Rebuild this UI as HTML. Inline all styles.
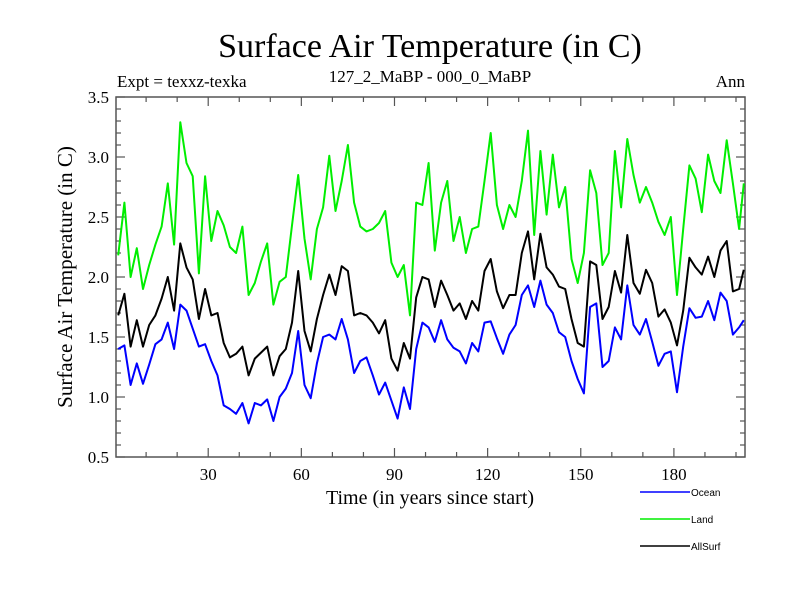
<!DOCTYPE html>
<html><head><meta charset="utf-8"><style>
body{margin:0;background:#fff;width:800px;height:600px;overflow:hidden}
svg{display:block}
.serif{font-family:"Liberation Serif",serif}
.sans{font-family:"Liberation Sans",sans-serif}
</style></head><body>
<svg id="chart" width="800" height="600" xmlns="http://www.w3.org/2000/svg">
<text class="serif" x="430" y="57" font-size="34" text-anchor="middle">Surface Air Temperature (in C)</text>
<text class="serif" x="117" y="87" font-size="17">Expt = texxz-texka</text>
<text class="serif" x="430" y="82" font-size="17" text-anchor="middle">127_2_MaBP - 000_0_MaBP</text>
<text class="serif" x="745" y="87" font-size="17" text-anchor="end">Ann</text>
<text class="serif" transform="translate(72,277) rotate(-90)" font-size="21" text-anchor="middle">Surface Air Temperature (in C)</text>
<text class="serif" x="430" y="504" font-size="20" text-anchor="middle">Time (in years since start)</text>
<g id="axes"></g>
<g id="series"></g>
<g>
<line x1="640" y1="492" x2="690" y2="492" stroke="#0000ff" stroke-width="1.5"/>
<text class="sans" x="691" y="496" font-size="10">Ocean</text>
<line x1="640" y1="519" x2="690" y2="519" stroke="#00ee00" stroke-width="1.5"/>
<text class="sans" x="691" y="523" font-size="10">Land</text>
<line x1="640" y1="546" x2="690" y2="546" stroke="#000" stroke-width="1.5"/>
<text class="sans" x="691" y="550" font-size="10">AllSurf</text>
</g>
</svg>
<script>
const years=[1,3,5,7,9,11,13,15,17,19,21,23,25,27,29,31,33,35,37,39,41,43,45,47,49,51,53,55,57,59,61,63,65,67,69,71,73,75,77,79,81,83,85,87,89,91,93,95,97,99,101,103,105,107,109,111,113,115,117,119,121,123,125,127,129,131,133,135,137,139,141,143,145,147,149,151,153,155,157,159,161,163,165,167,169,171,173,175,177,179,181,183,185,187,189,191,193,195,197,199,201,202.5];
const ocean=[1.40,1.43,1.10,1.28,1.11,1.27,1.44,1.48,1.62,1.40,1.77,1.72,1.57,1.42,1.44,1.30,1.18,0.93,0.90,0.86,0.95,0.78,0.95,0.93,0.98,0.80,1.00,1.07,1.20,1.55,1.10,0.99,1.28,1.50,1.52,1.48,1.65,1.48,1.20,1.30,1.33,1.18,1.02,1.12,0.97,0.82,1.08,0.90,1.40,1.62,1.58,1.46,1.64,1.48,1.41,1.38,1.28,1.45,1.38,1.62,1.63,1.49,1.36,1.52,1.60,1.85,1.93,1.75,1.97,1.77,1.70,1.54,1.50,1.30,1.15,1.03,1.75,1.78,1.25,1.30,1.58,1.48,1.93,1.60,1.52,1.65,1.46,1.26,1.36,1.38,1.04,1.42,1.74,1.66,1.67,1.80,1.64,1.87,1.80,1.52,1.58,1.64];
const land=[2.18,2.62,2.00,2.24,1.90,2.10,2.27,2.42,2.78,2.27,3.29,2.95,2.84,2.03,2.84,2.30,2.55,2.43,2.25,2.20,2.42,1.85,1.95,2.13,2.28,1.77,1.96,2.00,2.43,2.85,2.32,1.98,2.40,2.58,3.01,2.55,2.80,3.10,2.62,2.42,2.38,2.40,2.45,2.55,2.12,2.00,2.10,1.68,2.62,2.60,2.95,2.22,2.62,2.80,2.30,2.50,2.20,2.40,2.42,2.80,3.20,2.60,2.40,2.60,2.50,2.80,3.22,2.35,3.05,2.52,3.02,2.58,2.75,2.15,1.95,2.20,2.89,2.70,2.10,2.20,3.05,2.58,3.15,2.85,2.62,2.75,2.62,2.46,2.35,2.50,1.85,2.40,2.93,2.82,2.54,3.02,2.80,2.70,3.14,2.78,2.40,2.78];
const allsurf=[1.68,1.86,1.42,1.64,1.42,1.60,1.68,1.82,2.00,1.72,2.28,2.08,1.98,1.65,1.90,1.68,1.70,1.45,1.33,1.36,1.42,1.18,1.32,1.37,1.42,1.18,1.34,1.40,1.62,2.05,1.55,1.38,1.65,1.85,2.02,1.85,2.09,2.05,1.68,1.70,1.68,1.62,1.53,1.64,1.32,1.22,1.45,1.32,1.83,2.00,1.98,1.75,1.97,1.85,1.72,1.78,1.65,1.80,1.72,2.05,2.15,1.88,1.74,1.85,1.85,2.20,2.38,1.98,2.36,2.08,2.02,1.92,1.90,1.65,1.45,1.42,2.13,2.10,1.65,1.75,2.05,1.87,2.35,1.95,1.86,2.06,1.95,1.67,1.73,1.62,1.43,1.72,2.16,2.08,2.02,2.17,2.00,2.22,2.30,1.88,1.90,2.06];
const yTicks=[0.5,1.0,1.5,2.0,2.5,3.0,3.5];
const yTickLabels=["0.5","1.0","1.5","2.0","2.5","3.0","3.5"];
const xTicks=[30,60,90,120,150,180];
const xTickLabels=["30","60","90","120","150","180"];

const L=116,R=745,T=97,B=457;
const X0=0.3,X1=202.9,Y0=0.5,Y1=3.5;
function sx(v){return L+(v-X0)/(X1-X0)*(R-L);}
function sy(v){return B-(v-Y0)/(Y1-Y0)*(B-T);}
const NS="http://www.w3.org/2000/svg";
function mk(tag,attrs,parent){const e=document.createElementNS(NS,tag);for(const k in attrs)e.setAttribute(k,attrs[k]);parent.appendChild(e);return e;}
const axes=document.getElementById('axes');
const frame=mk('rect',{x:L,y:T,width:R-L,height:B-T,fill:'none',stroke:'#555','stroke-width':1.5},axes);


for(let v=Y0;v<=Y1+1e-9;v+=0.1){
  const major=Math.abs(v*2-Math.round(v*2))<1e-6;
  const len=major?9:5;const y=sy(v);
  const t1=mk('line',{x1:L,y1:y,x2:L+len,y2:y,stroke:'#555','stroke-width':1.2},axes);
  
  
  const t2=mk('line',{x1:R,y1:y,x2:R-len,y2:y,stroke:'#555','stroke-width':1.2},axes);
  
  
}
yTicks.forEach((v,i)=>{
  const t=mk('text',{x:L-7,y:sy(v)+6,'font-size':17,'text-anchor':'end','class':'serif'},axes);
  t.textContent=yTickLabels[i];
  
  
});
for(let v=10;v<X1;v+=10){
  const major=v%30===0;const len=major?9:5;const x=sx(v);
  const t1=mk('line',{x1:x,y1:B,x2:x,y2:B-len,stroke:'#555','stroke-width':1.2},axes);
  
  
  const t2=mk('line',{x1:x,y1:T,x2:x,y2:T+len,stroke:'#555','stroke-width':1.2},axes);
  
  
}
xTicks.forEach((v,i)=>{
  const t=mk('text',{x:sx(v),y:B+23,'font-size':17,'text-anchor':'middle','class':'serif'},axes);
  t.textContent=xTickLabels[i];
  
  
});
const g=document.getElementById('series');
function line(vals,color,name){
  const d=vals.map((v,i)=>(i?'L':'M')+sx(years[i]).toFixed(1)+','+sy(v).toFixed(1)).join('');
  const p=mk('path',{d:d,fill:'none',stroke:color,'stroke-width':2,'stroke-linejoin':'round'},g);
  
  
}
line(land,'#00ee00','land-line');
line(allsurf,'#000000','allsurf-line');
line(ocean,'#0000ff','ocean-line');
</script>
</body></html>
